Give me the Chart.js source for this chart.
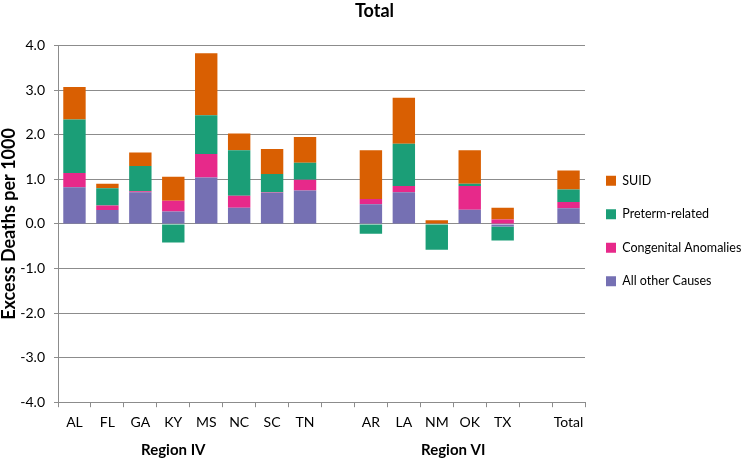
<!DOCTYPE html>
<html>
<head>
<meta charset="utf-8">
<script src="https://cdn.jsdelivr.net/npm/chart.js@4"></script>
<style>
  html, body { margin: 0; padding: 0; background: #fff; }
  #wrap { width: 751px; height: 463px; }
</style>
</head>
<body>
<div id="wrap"><canvas id="chart"></canvas></div>
<script>
// categories (blank entries are the gaps between regions)
const states = ['AL', 'FL', 'GA', 'KY', 'MS', 'NC', 'SC', 'TN', '', 'AR', 'LA', 'NM', 'OK', 'TX', '', 'Total'];
const allOther   = [0.82, 0.31, 0.71, 0.28, 1.04, 0.36, 0.70, 0.75, null, 0.44, 0.71, 0, 0.32, -0.06, null, 0.35];
const congenital = [0.32, 0.10, 0.02, 0.24, 0.53, 0.27, 0.01, 0.24, null, 0.12, 0.14, 0, 0.53, 0.10, null, 0.14];
const preterm    = [1.20, 0.39, 0.57, -0.42, 0.87, 1.02, 0.41, 0.38, null, -0.22, 0.95, -0.58, 0.05, -0.31, null, 0.28];
const suid       = [0.73, 0.10, 0.30, 0.54, 1.39, 0.38, 0.56, 0.58, null, 1.09, 1.03, 0.08, 0.75, 0.26, null, 0.43];
const regions = [
  { name: 'Region IV', from: 3, to: 3 },
  { name: 'Region VI', from: 11, to: 12 }
];

const FONT = 'Lato, "Open Sans", sans-serif';
const gridColor = '#8c8c8c';

// bold region names under the state labels
const regionLabels = {
  id: 'regionLabels',
  afterDraw(chart) {
    const ctx = chart.ctx;
    const x = chart.scales.x;
    ctx.save();
    ctx.font = 'bold 15px ' + FONT;
    ctx.fillStyle = '#000';
    ctx.textAlign = 'center';
    ctx.textBaseline = 'middle';
    regions.forEach(r => {
      const cx = (x.getPixelForValue(r.from) + x.getPixelForValue(r.to)) / 2;
      ctx.fillText(r.name, cx, chart.chartArea.bottom + 48);
    });
    ctx.restore();
  }
};

new Chart(document.getElementById('chart'), {
  type: 'bar',
  data: {
    labels: states,
    datasets: [
      { label: 'All other Causes', data: allOther, backgroundColor: '#7570b3' },
      { label: 'Congenital Anomalies', data: congenital, backgroundColor: '#e7298a' },
      { label: 'Preterm-related', data: preterm, backgroundColor: '#1b9e77' },
      { label: 'SUID', data: suid, backgroundColor: '#d95f02' }
    ]
  },
  options: {
    responsive: true,
    maintainAspectRatio: false,
    animation: false,
    datasets: { bar: { categoryPercentage: 1, barPercentage: 0.68 } },
    layout: { padding: { left: 0, right: 2, top: 0, bottom: 25 } },
    plugins: {
      title: {
        display: true,
        text: 'Total',
        color: '#000',
        font: { family: FONT, size: 18, weight: 'bold' },
        padding: { top: 0, bottom: 24 }
      },
      legend: {
        position: 'right',
        reverse: true,
        maxWidth: 164,
        // empty title only nudges the items down a little
        title: { display: true, text: '', font: { size: 20 }, padding: 0 },
        labels: {
          color: '#000',
          font: { family: FONT, size: 12.5 },
          boxWidth: 10,
          boxHeight: 10,
          padding: 21
        }
      },
      tooltip: { enabled: false }
    },
    scales: {
      x: {
        stacked: true,
        offset: true,
        grid: {
          offset: true,
          drawOnChartArea: false,
          drawTicks: true,
          tickLength: 5,
          color: gridColor
        },
        border: { display: true, color: gridColor },
        ticks: {
          color: '#000',
          font: { family: FONT, size: 14 },
          padding: 7,
          maxRotation: 0,
          autoSkip: false
        }
      },
      y: {
        stacked: true,
        min: -4,
        max: 4,
        afterFit: scale => { scale.width = 58; },
        grid: { color: gridColor, tickLength: 4 },
        border: { display: true, color: gridColor },
        ticks: {
          stepSize: 1,
          color: '#000',
          font: { family: FONT, size: 14 },
          padding: 9,
          callback: v => v.toFixed(1)
        },
        title: {
          display: true,
          text: 'Excess Deaths per 1000',
          color: '#000',
          font: { family: FONT, size: 18, weight: 'bold', lineHeight: 1 },
          padding: { top: 0, bottom: 1 }
        }
      }
    }
  },
  plugins: [regionLabels]
});
</script>
</body>
</html>
